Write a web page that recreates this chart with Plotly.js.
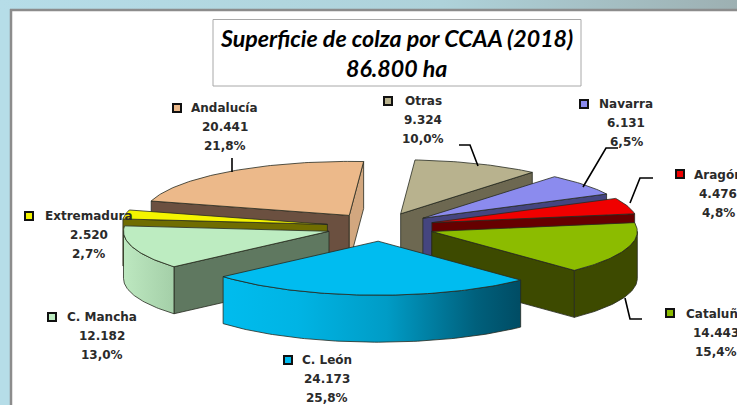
<!DOCTYPE html>
<html><head><meta charset="utf-8">
<script src="https://cdn.plot.ly/plotly-3.0.0.min.js"></script>
<style>html,body{margin:0;padding:0;background:#fff;overflow:hidden}#c{width:737px;height:405px}</style>
</head><body><div id="c"></div>
<script>
// Data, clockwise from the top of the pie
const categories = ["Otras","Navarra","Aragón","Cataluña","C. León","C. Mancha","Extremadura","Andalucía"];
const hectares   = [9324,6131,4476,14443,24173,12182,2520,20441];
const valueLabels = ["9.324","6.131","4.476","14.443","24.173","12.182","2.520","20.441"];
const pctLabels   = ["10,0%","6,5%","4,8%","15,4%","25,8%","13,0%","2,7%","21,8%"];
const titleLines  = ["Superficie de colza por CCAA (2018)","86.800 ha"];

// Styles
const topColors = ["#b8b28e","#8b8bee","#f00000","#8cbc00","#00bcf0","#bdecc1","#f4f400","#ecb98a"];
const startWall = ["#6d6851","#45457f","#660000","#3d4a00","#005f7a","#5f7860","#706d00","#6b5040"];
const endWall   = ["#6d6851","#45457f","#660000","#3d4a00","#005f7a","#5f7860","#706d00","#d2a77f"];
const rimScale  = [null,null,null,
  [[0,"#3d4a00"],[1,"#3d4a00"]],
  [[0,"#00bcee"],[0.25,"#00b4e4"],[0.55,"#009cc6"],[0.85,"#00607c"],[1,"#004c64"]],
  [[0,"#bde8c0"],[1,"#a4cfa8"]],null,null];

// Pie geometry
const CX=380.5, CY=227, RX=205.5, RY=54, DEPTH=47, PULL=0.263, START=4;
const EDGE="#262a20";
const rad=d=>d*Math.PI/180;
const total=hectares.reduce((a,b)=>a+b,0);
let acc=START;
const slices=hectares.map((v,i)=>{const s=acc,e=acc+v/total*360;acc=e;
  const m=rad((s+e)/2);
  return {i,s,e,ax:CX+PULL*RX*Math.sin(m),ay:CY-PULL*RY*Math.cos(m)};});
const px=(sl,t)=>sl.ax+RX*Math.sin(rad(t));
const py=(sl,t,d=0)=>sl.ay-RY*Math.cos(rad(t))+d;
function poly(xs,ys,fill,grad){
  const t={type:"scatter",mode:"lines",x:xs,y:ys,fill:"toself",fillcolor:fill,
    line:{color:EDGE,width:0.8},hoverinfo:"skip",showlegend:false};
  if(grad) t.fillgradient={type:"horizontal",colorscale:grad};
  return t;
}
const traces=[];
// Background frame bands
traces.push(Object.assign(poly([0,737,737,0,0],[0,0,9,9,0],"#b5dbe5",[[0,"#b6dde8"],[0.6,"#aed2da"],[1,"#9db0b2"]]),{line:{width:0}}));
traces.push(Object.assign(poly([0,10,10,0,0],[9,9,405,405,9],"#b6dde8"),{line:{width:0}}));

// Paint back to front
const order=[7,0,1,2,3,6,5,4];
order.forEach(k=>{
  const sl=slices[k];
  const a0={x:px(sl,sl.s),y:py(sl,sl.s)}, a1={x:px(sl,sl.e),y:py(sl,sl.e)};
  const startVis=Math.sin(rad(sl.s))<0, endVis=Math.sin(rad(sl.e))>0;
  if(startVis) traces.push(poly([sl.ax,a0.x,a0.x,sl.ax,sl.ax],[sl.ay,a0.y,a0.y+DEPTH,sl.ay+DEPTH,sl.ay],startWall[k]));
  if(endVis)   traces.push(poly([sl.ax,a1.x,a1.x,sl.ax,sl.ax],[sl.ay,a1.y,a1.y+DEPTH,sl.ay+DEPTH,sl.ay],endWall[k]));
  const r0=Math.max(sl.s,90), r1=Math.min(sl.e,270);
  if(r1>r0){
    const xs=[],ys=[];
    for(let t=r0;t<r1;t+=1){xs.push(px(sl,t));ys.push(py(sl,t));}
    xs.push(px(sl,r1));ys.push(py(sl,r1));
    for(let t=r1;t>r0;t-=1){xs.push(px(sl,t));ys.push(py(sl,t,DEPTH));}
    xs.push(px(sl,r0),xs[0]);ys.push(py(sl,r0,DEPTH),ys[0]);
    traces.push(poly(xs,ys,topColors[k],rimScale[k]));
  }
  const xs=[sl.ax],ys=[sl.ay];
  for(let t=sl.s;t<sl.e;t+=1){xs.push(px(sl,t));ys.push(py(sl,t));}
  xs.push(a1.x,sl.ax);ys.push(a1.y,sl.ay);
  traces.push(poly(xs,ys,topColors[k]));
});

// Label placement, same order as categories
const labelX=[423,626,718,716,326.5,101.5,88.5,224.5];
const labelY=[101,104,175,314,360,317,216,108];
const nameOffset=19.2;
const keyX=[388,584,680,670,288,52,29,177];
const keyY=[101,104,174,313,360,317,216,108];
traces.push({type:"scatter",mode:"markers",x:keyX,y:keyY,hoverinfo:"skip",showlegend:false,
  marker:{symbol:"square",size:8,color:topColors,line:{color:"#111",width:2}}});
// Leader lines
const leaderX=[232,232,null,459,470,478,null,583,606,618,null,630,640,653,null,625,630,642];
const leaderY=[158,172,null,145,145,166,null,187,148,148,null,203,178,178,null,298,319,319];
traces.push({type:"scatter",mode:"lines",x:leaderX,y:leaderY,hoverinfo:"skip",showlegend:false,
  line:{color:"#000",width:1.6}});

const LABEL_FONT={family:"DejaVu Sans, sans-serif",size:12,color:"#2a2a2a",weight:700};
const TITLE_FONT={family:"Lato, sans-serif",size:23.2,color:"#000",weight:700,style:"italic"};
const annotations=[];
const note=(x,y,text,font)=>annotations.push({x,y,xref:"x",yref:"y",text,showarrow:false,
  xanchor:"center",yanchor:"middle",font});
categories.forEach((c,i)=>{
  note(labelX[i],labelY[i],c,LABEL_FONT);
  note(labelX[i],labelY[i]+nameOffset,valueLabels[i],LABEL_FONT);
  note(labelX[i],labelY[i]+2*nameOffset,pctLabels[i],LABEL_FONT);
});
note(396,38,titleLines[0],TITLE_FONT);
note(396,68,titleLines[1],TITLE_FONT);

const layout={width:737,height:405,margin:{l:0,r:0,t:0,b:0},paper_bgcolor:"#fff",plot_bgcolor:"#fff",
  showlegend:false,
  xaxis:{range:[0,737],visible:false,fixedrange:true},
  yaxis:{range:[405,0],visible:false,fixedrange:true},
  annotations,
  shapes:[
    {type:"line",x0:11,x1:11,y0:9,y1:405,line:{color:"#8c8c8c",width:2.5},layer:"above"},
    {type:"line",x0:10,x1:737,y0:10,y1:10,line:{color:"#8c8c8c",width:2.5},layer:"above"},
    {type:"rect",x0:213,x1:581,y0:19.5,y1:86,fillcolor:"#fff",line:{color:"#a8a8a8",width:1},layer:"below"}
  ]};
Plotly.newPlot("c",traces,layout,{displayModeBar:false,staticPlot:true});
</script></body></html>
